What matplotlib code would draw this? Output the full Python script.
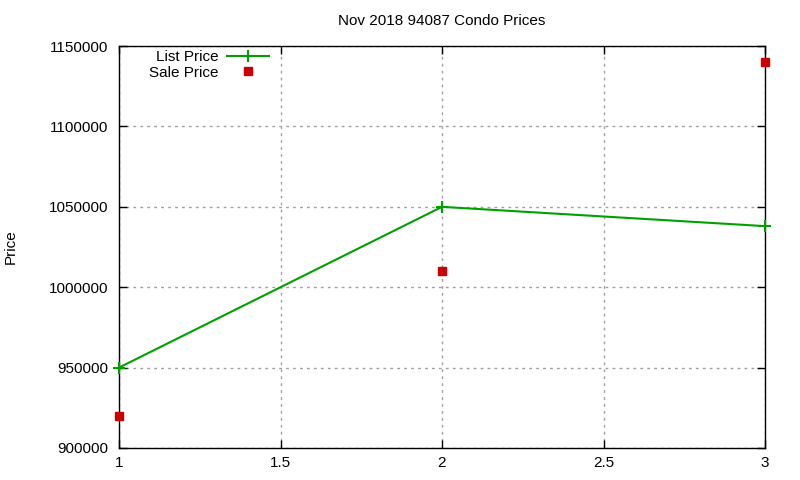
import matplotlib
matplotlib.use("Agg")
import matplotlib.pyplot as plt

x = [1, 2, 3]
list_price = [950000, 1050000, 1038000]
sale_price = [920000, 1010000, 1140000]
yticks = [900000, 950000, 1000000, 1050000, 1100000, 1150000]
xticks = [1, 1.5, 2, 2.5, 3]

plt.rcParams['font.family'] = ['Liberation Sans', 'DejaVu Sans']
plt.rcParams['font.size'] = 11

fig = plt.figure(figsize=(8, 4.8), dpi=100)
ax = fig.add_axes([0.14875, 0.0667, 0.8075, 0.8373])

ax.plot(x, list_price, color='#00a000', lw=1.5, marker='+', ms=8, mew=1.5,
        label='List Price', clip_on=False, zorder=3)
ax.plot(x, sale_price, ls='none', marker='s', ms=6, color='#cc0000',
        label='Sale Price', clip_on=False, zorder=3)

ax.set_xlim(1, 3)
ax.set_ylim(900000, 1150000)
ax.set_xticks(xticks)
ax.set_xticklabels(['1', '1.5', '2', '2.5', '3'])
ax.set_yticks(yticks)
ax.set_yticklabels([str(v) for v in yticks])
ax.tick_params(direction='in', length=6, width=1, top=True, right=True, colors='black')
ax.tick_params(axis='y', pad=8)
ax.tick_params(axis='x', pad=6)
ax.grid(True, color='#a0a0a0', ls=(0, (2, 3)), lw=1)
for s in ax.spines.values():
    s.set_linewidth(1)
ax.set_ylabel('Price', labelpad=22)
ax.set_title('Nov 2018 94087 Condo Prices', fontsize=11, pad=15)

leg = ax.legend(loc='upper left', bbox_to_anchor=(0.027, 1.02), markerfirst=False,
                frameon=False, handlelength=2.8, borderpad=0.3, labelspacing=0.1,
                handletextpad=0.55)
for t in leg.get_texts():
    t.set_ha('right')

fig.savefig('out.png', dpi=100)
